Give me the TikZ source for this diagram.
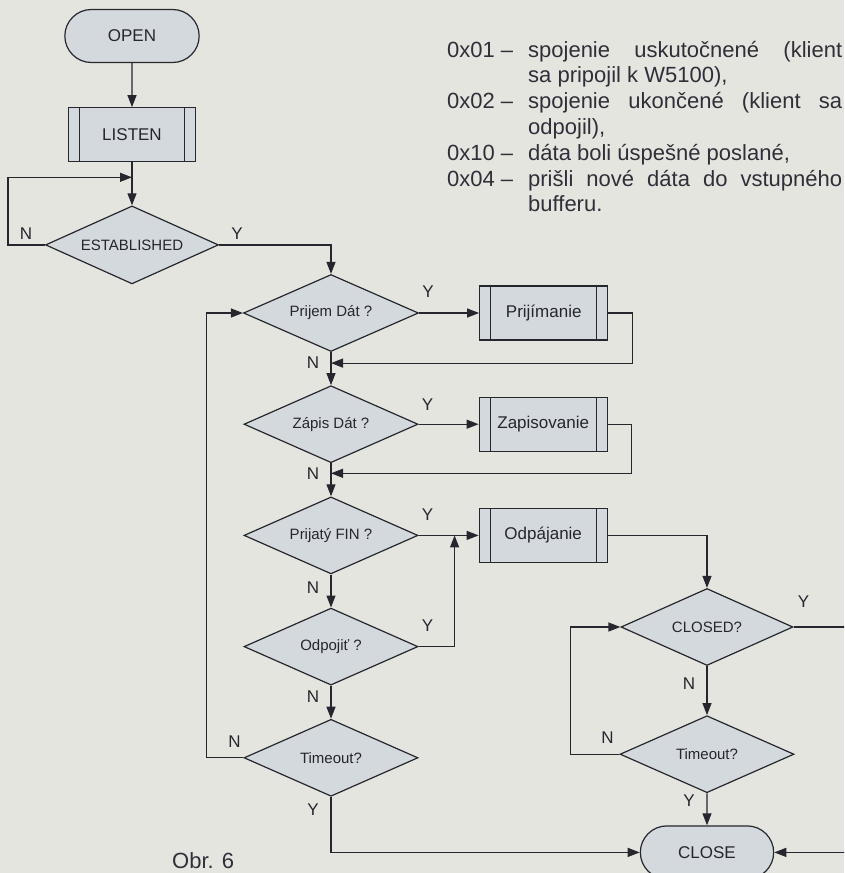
\documentclass[tikz,border=0pt]{standalone}
\usepackage{fontspec}
\setmainfont{Liberation Sans}
\usetikzlibrary{positioning, shapes.geometric, shapes.misc, arrows.meta}

\definecolor{paper}{RGB}{229,229,224}
\definecolor{shapefill}{RGB}{212,217,221}
\definecolor{ink}{RGB}{38,38,46}
\definecolor{print}{RGB}{48,46,56}

\begin{document}
\begin{tikzpicture}[
  x=1pt, y=-1pt,
  font=\fontsize{17}{20}\selectfont,
  term/.style={rounded rectangle, draw=ink, fill=shapefill, line width=1.2pt,
    minimum width=141pt, minimum height=53pt, text=ink},
  proc/.style={rectangle, draw=ink, fill=shapefill, line width=1.2pt,
    minimum width=128pt, minimum height=54pt, text=ink,
    path picture={\draw[ink, line width=1pt]
      ([xshift=11pt]path picture bounding box.north west) -- ([xshift=11pt]path picture bounding box.south west)
      ([xshift=-11pt]path picture bounding box.north east) -- ([xshift=-11pt]path picture bounding box.south east);}},
  dec/.style={diamond, aspect=2.25, draw=ink, fill=shapefill, line width=1.2pt, inner sep=0pt,
    minimum width=174pt, minimum height=77pt, text=ink, font=\fontsize{15}{18}\selectfont},
  yn/.style={text=ink},
  note/.style={anchor=base west, inner sep=0pt, text=print, font=\fontsize{22}{26}\selectfont},
  arr/.style={draw=ink, line width=1.2pt, -{Triangle[length=12pt, width=9pt]}}
]
  \useasboundingbox (0,0) rectangle (844,873);
  \clip (0,0) rectangle (844,873);
  \fill[paper] (0,0) rectangle (844,873);

  % status codes beside the chart
  \node[note] (c01) at (447,57) {\makebox[81pt][l]{0x01 –}\makebox[314pt][s]{spojenie uskutočnené (klient}};
  \node[note] (c01b) at (528,82.8) {sa pripojil k W5100),};
  \node[note] (c02) at (447,108.6) {\makebox[81pt][l]{0x02 –}\makebox[314pt][s]{spojenie ukončené (klient sa}};
  \node[note] (c02b) at (528,134.4) {odpojil),};
  \node[note] (c10) at (447,160.2) {\makebox[81pt][l]{0x10 –}dáta boli úspešné poslané,};
  \node[note] (c04) at (447,186) {\makebox[81pt][l]{0x04 –}\makebox[314pt][s]{prišli nové dáta do vstupného}};
  \node[note] (c04b) at (528,211.8) {bufferu.};
  \node[note] (caption) at (172,868) {Obr. 6};

  % start
  \node[term] (open) at (132,36) {OPEN};
  \node[proc, minimum width=127pt, below=44pt of open] (listen) {LISTEN};
  \node[dec, minimum width=173pt, minimum height=78pt, below=43pt of listen] (est) {ESTABLISHED};

  % main loop
  \node[dec, minimum width=175pt] (prijem) at (331,313) {Prijem Dát ?};
  \node[dec, below=33pt of prijem] (zapis) {Zápis Dát ?};
  \node[dec, below=33pt of zapis] (fin) {Prijatý FIN ?};
  \node[dec, below=33pt of fin] (odpojit) {Odpojiť ?};
  \node[dec, below=33pt of odpojit] (tmo) {Timeout?};

  \node[proc, right=60pt of prijem] (prijimanie) {Prijímanie};
  \node[proc, right=60pt of zapis] (zapisovanie) {Zapisovanie};
  \node[proc, right=60pt of fin] (odpajanie) {Odpájanie};

  % closing
  \node[dec, minimum width=172pt] (closed) at (707,627) {CLOSED?};
  \node[dec, below=49pt of closed] (tmoc) {Timeout?};
  \node[term, minimum width=140pt, below=32pt of tmoc] (close) {CLOSE};

  \coordinate (estloop) at ([yshift=-15pt]listen.south);
  \coordinate (ret1) at ([yshift=-11pt]prijem.south);
  \coordinate (ret2) at ([yshift=-10pt]zapis.south);
  \coordinate (finjoin) at ([xshift=36pt]fin.east);

  \draw[arr] (open) -- (listen);
  \draw[arr] (listen) -- (est);
  \draw[arr] (est.west) -- ++(-37,0) |- (estloop);
  \draw[arr] (est.east) -| (prijem.north);

  \draw[arr] (prijem) -- (prijimanie);
  \draw[arr] (prijimanie.east) -- ++(24,0) |- (ret1);
  \draw[arr] (prijem) -- (zapis);
  \draw[arr] (zapis) -- (zapisovanie);
  \draw[arr] (zapisovanie.east) -- ++(24,0) |- (ret2);
  \draw[arr] (zapis) -- (fin);
  \draw[arr] (fin) -- (odpajanie);
  \draw[arr] (odpojit.east) -| (finjoin);
  \draw[arr] (fin) -- (odpojit);
  \draw[arr] (odpojit) -- (tmo);
  \draw[arr] (tmo.west) -- ++(-37,0) |- (prijem.west);
  \draw[arr] (tmo.south) |- (close.west);

  \draw[arr] (odpajanie.east) -| (closed.north);
  \draw[arr] (closed) -- (tmoc);
  \draw[arr] (tmoc.west) -- ++(-49,0) |- (closed.west);
  \draw[arr] (tmoc) -- (close);
  \draw[arr] (closed.east) -- ++(70,0) |- (close.east);

  % Y / N labels
  \node[yn] (estN) at ([shift={(-19,-11)}]est.west) {N};
  \node[yn] (estY) at ([shift={(18,-11)}]est.east) {Y};
  \node[yn] (prijemY) at ([shift={(9,-21)}]prijem.east) {Y};
  \node[yn] (prijemN) at ([xshift=-18pt]ret1) {N};
  \node[yn] (zapisY) at ([shift={(9,-20)}]zapis.east) {Y};
  \node[yn] (zapisN) at ([xshift=-18pt]ret2) {N};
  \node[yn] (finY) at ([shift={(9,-21)}]fin.east) {Y};
  \node[yn] (finN) at ([shift={(-18,13)}]fin.south) {N};
  \node[yn] (odpojitY) at ([shift={(9,-21)}]odpojit.east) {Y};
  \node[yn] (odpojitN) at ([shift={(-18,11)}]odpojit.south) {N};
  \node[yn] (tmoN) at ([shift={(-9,-16)}]tmo.west) {N};
  \node[yn] (tmoY) at ([shift={(-18,13)}]tmo.south) {Y};
  \node[yn] (closedY) at ([shift={(10,-25)}]closed.east) {Y};
  \node[yn] (closedN) at ([shift={(-18,18)}]closed.south) {N};
  \node[yn] (tmocN) at ([shift={(-12,-17)}]tmoc.west) {N};
  \node[yn] (tmocY) at ([shift={(-18,7)}]tmoc.south) {Y};
\end{tikzpicture}
\end{document}
